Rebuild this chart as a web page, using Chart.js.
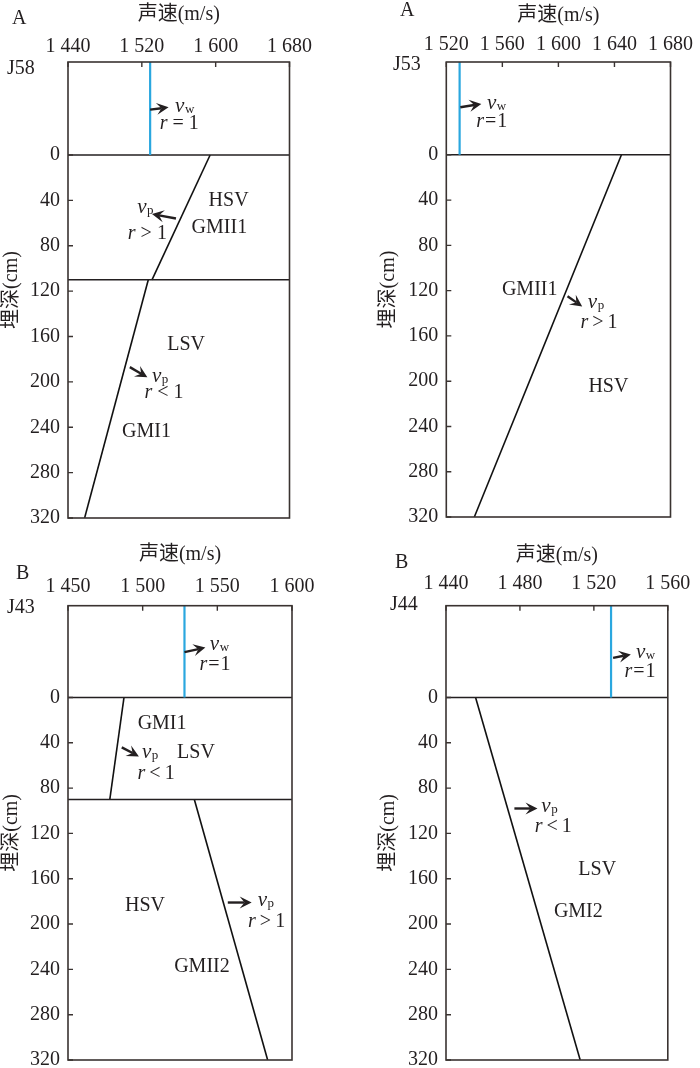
<!DOCTYPE html>
<html>
<head>
<meta charset="utf-8">
<script src="https://cdn.jsdelivr.net/npm/chart.js@4.4.0/dist/chart.umd.min.js"></script>
<style>
  html, body { margin: 0; padding: 0; background: #fff; overflow: hidden; }
  body { width: 700px; height: 1068px; position: relative; }
  .box { position: absolute; width: 350px; height: 540px; }
  .lab { position: absolute; font-family: "Liberation Serif", serif; font-size: 20px; line-height: 24px; color: #231f20; white-space: nowrap; }
</style>
</head>
<body>
<div class="box" style="left:0;top:0"><canvas id="c58"></canvas></div>
<div class="box" style="left:350px;top:0"><canvas id="c53"></canvas></div>
<div class="box" style="left:0;top:540px"><canvas id="c43"></canvas></div>
<div class="box" style="left:350px;top:540px"><canvas id="c44"></canvas></div>

<div class="lab" style="left:12px;top:5px">A</div>
<div class="lab" style="left:7px;top:55px">J58</div>
<div class="lab" style="left:400px;top:-3px">A</div>
<div class="lab" style="left:393px;top:51px">J53</div>
<div class="lab" style="left:16px;top:560px">B</div>
<div class="lab" style="left:7px;top:594px">J43</div>
<div class="lab" style="left:395px;top:549px">B</div>
<div class="lab" style="left:390px;top:591px">J44</div>

<script>
// 深度刻度 (cm)
const depthTicks = [0, 40, 80, 120, 160, 200, 240, 280, 320];

// J58
const j58SpeedTicks = [1440, 1520, 1600, 1680];
const j58Water = 1529;
const j58Layer = 110;
const j58UpperSpeed = [1594, 1531];
const j58UpperDepth = [0, 110];
const j58LowerSpeed = [1527, 1458];
const j58LowerDepth = [110, 320];

// J53
const j53SpeedTicks = [1520, 1560, 1600, 1640, 1680];
const j53Water = 1529.5;
const j53Speed = [1645, 1540];
const j53Depth = [0, 320];

// J43
const j43SpeedTicks = [1450, 1500, 1550, 1600];
const j43Water = 1528;
const j43Layer = 90;
const j43UpperSpeed = [1487.5, 1478];
const j43UpperDepth = [0, 90];
const j43LowerSpeed = [1534.6, 1583.7];
const j43LowerDepth = [90, 320];

// J44
const j44SpeedTicks = [1440, 1480, 1520, 1560];
const j44Water = 1529.3;
const j44Speed = [1456, 1512.6];
const j44Depth = [0, 320];

// подписи внутри графиков
const j58Notes = [
  {t: 'arrow', x: 1529, y: -40, x2: 1549, y2: -42},
  {t: 'v', x: 1556, y: -42, sub: 'w'},
  {t: 'r', x: 1560.5, y: -28, op: '=', gap: 5},
  {t: 'text', x: 1614, y: 40, s: 'HSV'},
  {t: 'text', x: 1604, y: 64, s: 'GMII1'},
  {t: 'v', x: 1515, y: 47, sub: 'p'},
  {t: 'arrow', x: 1557, y: 56, x2: 1531, y2: 52},
  {t: 'r', x: 1526, y: 69, op: '>', gap: 5},
  {t: 'text', x: 1568, y: 167, s: 'LSV'},
  {t: 'arrow', x: 1507, y: 187, x2: 1526, y2: 196},
  {t: 'v', x: 1531, y: 196, sub: 'p'},
  {t: 'r', x: 1544, y: 210, op: '<', gap: 5},
  {t: 'text', x: 1525, y: 244, s: 'GMI1'}
];
const j53Notes = [
  {t: 'arrow', x: 1530, y: -42, x2: 1545, y2: -45},
  {t: 'v', x: 1549, y: -45, sub: 'w'},
  {t: 'r', x: 1552.5, y: -29, op: '=', gap: 1},
  {t: 'text', x: 1579.5, y: 119, s: 'GMII1'},
  {t: 'arrow', x: 1606.5, y: 125, x2: 1617, y2: 134},
  {t: 'v', x: 1621, y: 131, sub: 'p'},
  {t: 'r', x: 1629, y: 148, op: '>', gap: 4},
  {t: 'text', x: 1635.7, y: 205, s: 'HSV'}
];
const j43Notes = [
  {t: 'arrow', x: 1528, y: -40, x2: 1542, y2: -44},
  {t: 'v', x: 1545, y: -46, sub: 'w'},
  {t: 'r', x: 1548.4, y: -29, op: '=', gap: 1},
  {t: 'text', x: 1513, y: 23, s: 'GMI1'},
  {t: 'arrow', x: 1486, y: 44, x2: 1497.5, y2: 52},
  {t: 'v', x: 1499.5, y: 49, sub: 'p'},
  {t: 'text', x: 1535.7, y: 49, s: 'LSV'},
  {t: 'r', x: 1509, y: 67, op: '<', gap: 4},
  {t: 'text', x: 1501.6, y: 184, s: 'HSV'},
  {t: 'arrow', x: 1557, y: 181, x2: 1573, y2: 181},
  {t: 'v', x: 1577, y: 180, sub: 'p'},
  {t: 'r', x: 1583, y: 198, op: '>', gap: 4},
  {t: 'text', x: 1539.7, y: 237.5, s: 'GMII2'}
];
const j44Notes = [
  {t: 'arrow', x: 1530.4, y: -35, x2: 1540, y2: -38},
  {t: 'v', x: 1542.8, y: -39.4, sub: 'w'},
  {t: 'r', x: 1545, y: -22.6, op: '=', gap: 1},
  {t: 'arrow', x: 1477, y: 98, x2: 1489.5, y2: 98},
  {t: 'v', x: 1491.6, y: 96.4, sub: 'p'},
  {t: 'r', x: 1498, y: 114, op: '<', gap: 4},
  {t: 'text', x: 1521.8, y: 152, s: 'LSV'},
  {t: 'text', x: 1511.6, y: 189, s: 'GMI2'}
];

const INK = '#231f20';
const FRAME = '#3a3331';
const BLUE = '#2aa7df';
const SERIF = '"Liberation Serif", "Times New Roman", serif';

function pts(sp, dp) {
  return sp.map((v, i) => ({x: v, y: dp[i]}));
}

function fmt(v) {
  const s = String(v);
  return s.slice(0, s.length - 3) + ' ' + s.slice(-3);
}

function drawArrow(ctx, x1, y1, x2, y2) {
  const a = Math.atan2(y2 - y1, x2 - x1);
  const c = Math.cos(a), s = Math.sin(a);
  const hl = 12, hw = 6;
  ctx.beginPath();
  ctx.moveTo(x1, y1);
  ctx.lineTo(x2 - c * hl * 0.6, y2 - s * hl * 0.6);
  ctx.lineWidth = 2.4;
  ctx.strokeStyle = INK;
  ctx.stroke();
  ctx.beginPath();
  ctx.moveTo(x2, y2);
  ctx.lineTo(x2 - c * hl - s * hw, y2 - s * hl + c * hw);
  ctx.lineTo(x2 - c * hl * 0.6, y2 - s * hl * 0.6);
  ctx.lineTo(x2 - c * hl + s * hw, y2 - s * hl - c * hw);
  ctx.closePath();
  ctx.fillStyle = INK;
  ctx.fill();
}

function framePlugin(notes) {
  return {
    id: 'frame',
    afterDatasetsDraw(chart) {
      const {ctx, chartArea: a, scales: {x, y}} = chart;
      ctx.save();
      // рамка
      ctx.strokeStyle = FRAME;
      ctx.lineWidth = 1.6;
      ctx.strokeRect(a.left, a.top, a.right - a.left, a.bottom - a.top);
      // внутренние засечки
      ctx.beginPath();
      x.ticks.forEach(t => {
        const px = x.getPixelForValue(t.value);
        ctx.moveTo(px, a.top); ctx.lineTo(px, a.top + 5);
      });
      y.ticks.forEach(t => {
        const py = y.getPixelForValue(t.value);
        ctx.moveTo(a.left, py); ctx.lineTo(a.left + 5, py);
      });
      ctx.lineWidth = 1.4;
      ctx.stroke();

      ctx.fillStyle = INK;
      notes.forEach(n => {
        const px = x.getPixelForValue(n.x), py = y.getPixelForValue(n.y);
        if (n.t === 'arrow') {
          drawArrow(ctx, px, py, x.getPixelForValue(n.x2), y.getPixelForValue(n.y2));
        } else if (n.t === 'text') {
          ctx.font = '20px ' + SERIF;
          ctx.textAlign = 'center';
          ctx.textBaseline = 'middle';
          ctx.fillText(n.s, px, py);
        } else if (n.t === 'v') {
          ctx.textAlign = 'left';
          ctx.textBaseline = 'alphabetic';
          ctx.font = 'italic 21px ' + SERIF;
          ctx.fillText('v', px, py + 5);
          const w = ctx.measureText('v').width;
          ctx.font = '13px ' + SERIF;
          ctx.fillText(n.sub, px + w + 0.5, py + 6);
        } else if (n.t === 'r') {
          ctx.textBaseline = 'middle';
          ctx.textAlign = 'left';
          ctx.font = 'italic 20px ' + SERIF;
          const wr = ctx.measureText('r').width;
          ctx.font = '20px ' + SERIF;
          const wo = ctx.measureText(n.op).width;
          const w1 = ctx.measureText('1').width;
          const total = wr + wo + w1 + n.gap * 2;
          let cx = px - total / 2;
          ctx.font = 'italic 20px ' + SERIF;
          ctx.fillText('r', cx, py);
          cx += wr + n.gap;
          ctx.font = '20px ' + SERIF;
          ctx.fillText(n.op, cx, py);
          cx += wo + n.gap;
          ctx.fillText('1', cx, py);
        }
      });
      ctx.restore();
    }
  };
}

function makePanel(id, p) {
  const xt = p.speedTicks;
  const xmin = xt[0], xmax = xt[xt.length - 1];
  const datasets = [
    {data: [{x: p.water, y: p.yMin}, {x: p.water, y: 0}], borderColor: BLUE, borderWidth: 2.2},
    {data: [{x: xmin, y: 0}, {x: xmax, y: 0}], borderColor: INK, borderWidth: 1.6}
  ];
  if (p.layer !== undefined) {
    datasets.push({data: [{x: xmin, y: p.layer}, {x: xmax, y: p.layer}], borderColor: INK, borderWidth: 1.6});
  }
  p.profiles.forEach(pr => {
    datasets.push({data: pr, borderColor: '#111', borderWidth: 1.6});
  });
  datasets.forEach(d => { d.showLine = true; d.pointRadius = 0; d.fill = false; });

  new Chart(document.getElementById(id), {
    type: 'scatter',
    data: {datasets: datasets},
    options: {
      responsive: true,
      maintainAspectRatio: false,
      devicePixelRatio: 1,
      animation: false,
      events: [],
      layout: {padding: {left: 0, top: 0, right: p.padRight, bottom: p.padBottom}},
      plugins: {legend: {display: false}, tooltip: {enabled: false}},
      scales: {
        x: {
          type: 'linear',
          position: 'top',
          min: xmin,
          max: xmax,
          afterBuildTicks: s => { s.ticks = xt.map(v => ({value: v})); },
          ticks: {
            autoSkip: false, maxRotation: 0, color: INK, padding: p.xPad,
            font: {family: SERIF, size: 20},
            callback: v => fmt(v)
          },
          grid: {display: false, drawTicks: false},
          border: {display: false},
          title: {
            display: true, text: '声速(m/s)', color: INK,
            font: {family: '"Liberation Serif", "Noto Sans CJK SC", serif', size: 20},
            padding: {top: p.xTitlePad, bottom: 0}
          },
          afterFit: s => { s.height = p.xHeight; }
        },
        y: {
          type: 'linear',
          reverse: true,
          min: p.yMin,
          max: 320,
          afterBuildTicks: s => { s.ticks = depthTicks.map(v => ({value: v})); },
          ticks: {
            autoSkip: false, color: INK, padding: 8,
            font: {family: SERIF, size: 20}
          },
          grid: {display: false, drawTicks: false},
          border: {display: false},
          title: {
            display: true, text: '埋深(cm)', color: INK,
            font: {family: '"Liberation Serif", "Noto Sans CJK SC", serif', size: 20},
            padding: {top: p.yTitlePad, bottom: 0}
          },
          afterFit: s => { s.width = p.yWidth; }
        }
      }
    },
    plugins: [framePlugin(p.notes)]
  });
}

makePanel('c58', {
  speedTicks: j58SpeedTicks, water: j58Water, layer: j58Layer, yMin: -82,
  profiles: [pts(j58UpperSpeed, j58UpperDepth), pts(j58LowerSpeed, j58LowerDepth)],
  notes: j58Notes,
  yWidth: 68, xHeight: 62, padRight: 60.5, padBottom: 22,
  xPad: 3, xTitlePad: 3, yTitlePad: 0
});
makePanel('c53', {
  speedTicks: j53SpeedTicks, water: j53Water, yMin: -82,
  profiles: [pts(j53Speed, j53Depth)],
  notes: j53Notes,
  yWidth: 96.3, xHeight: 62, padRight: 29.5, padBottom: 23,
  xPad: 5, xTitlePad: 4, yTitlePad: 27
});
makePanel('c43', {
  speedTicks: j43SpeedTicks, water: j43Water, layer: j43Layer, yMin: -81,
  profiles: [pts(j43UpperSpeed, j43UpperDepth), pts(j43LowerSpeed, j43LowerDepth)],
  notes: j43Notes,
  yWidth: 68, xHeight: 65.7, padRight: 58, padBottom: 19.3,
  xPad: 6.7, xTitlePad: 3, yTitlePad: 0
});
makePanel('c44', {
  speedTicks: j44SpeedTicks, water: j44Water, yMin: -81,
  profiles: [pts(j44Speed, j44Depth)],
  notes: j44Notes,
  yWidth: 96, xHeight: 65.7, padRight: 31, padBottom: 19.3,
  xPad: 9.7, xTitlePad: 4, yTitlePad: 27
});
</script>
</body>
</html>
